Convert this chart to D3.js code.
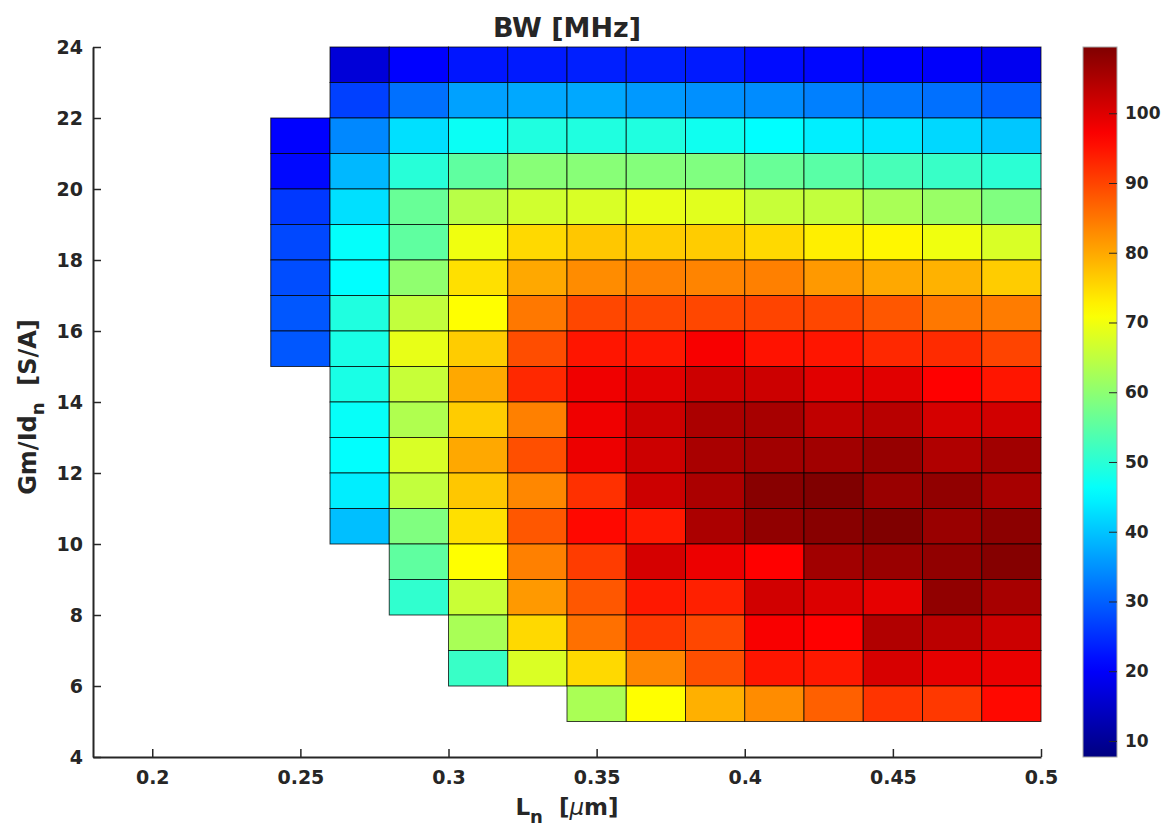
<!DOCTYPE html>
<html>
<head>
<meta charset="utf-8">
<script src="https://cdn.jsdelivr.net/npm/d3@7"></script>
<style>
body { margin: 0; background: #fff; }
text { font-family: "DejaVu Sans", sans-serif; font-weight: bold; fill: #262626; }
</style>
</head>
<body>
<svg width="1169" height="829"></svg>
<script>
// channel length (left edge of each cell column), um
var lengths = [0.24, 0.26, 0.28, 0.30, 0.32, 0.34, 0.36, 0.38, 0.40, 0.42, 0.44, 0.46, 0.48];
// gm/Id (bottom edge of each cell row), S/A, top row first
var gmId = [23, 22, 21, 20, 19, 18, 17, 16, 15, 14, 13, 12, 11, 10, 9, 8, 7, 6, 5];
// bandwidth, MHz (null = no design point)
var bw = [
    [null, 16.5, 20.5, 22.5, 23, 23.5, 23.5, 23, 21.5, 21, 20.5, 20, 19],
    [null, 26.8, 31.6, 36.5, 37.2, 37.2, 35.7, 34.8, 34.4, 33.2, 32.4, 31.6, 30],
    [20.5, 34, 42.8, 46.9, 49, 49, 49, 47.4, 45.9, 44.3, 43.6, 42, 40.3],
    [21.2, 38.8, 49.8, 55.4, 59.4, 59.4, 59, 58.6, 56.3, 54.8, 53, 51.5, 50.2],
    [26, 42.8, 56.3, 64.2, 66.6, 67.5, 69, 68.3, 65.7, 65.2, 62.7, 61.1, 58.6],
    [27.6, 46.3, 55.4, 69.8, 75.1, 76.9, 76.4, 76.4, 75.1, 72.9, 72.1, 69.8, 67.5],
    [28.1, 45.9, 60.2, 74.4, 80, 82.8, 84, 83.6, 84, 81.5, 80, 79, 76.4],
    [29.1, 49, 65.2, 71.3, 84.8, 89.7, 89.7, 89.7, 90, 89.7, 88.1, 84.8, 84.4],
    [29.1, 48.4, 69, 76.4, 89.1, 94.7, 94.5, 97.5, 95, 94.7, 92.8, 92.5, 90],
    [null, 48.4, 65.7, 80, 92.8, 98.3, 99.8, 101.9, 101.9, 99.8, 99.8, 96.8, 94.7],
    [null, 46.5, 63.4, 76.4, 84, 98.3, 101.9, 105.2, 105.6, 103.1, 103.9, 101, 101.4],
    [null, 46, 67.5, 80, 88.9, 98.6, 101.9, 105.4, 106.2, 106.2, 107.3, 104.7, 106.2],
    [null, 44.2, 65.2, 76.9, 83.3, 92, 101.9, 105.2, 108.7, 109.5, 107, 107.8, 105.6],
    [null, 39.5, 58.6, 74.4, 88.1, 96, 94.4, 105.2, 107.8, 108.7, 109.5, 107, 108.3],
    [null, null, 55.4, 71.3, 84, 90.8, 101, 98.6, 96.8, 106.2, 107, 107.8, 109],
    [null, null, 50.7, 65.9, 81.5, 88.1, 94.4, 93.6, 101.4, 100.3, 99.3, 107.8, 105.6],
    [null, null, null, 62.7, 75.1, 85.6, 91.2, 89.7, 97.4, 96.8, 104.6, 103.6, 101.9],
    [null, null, null, 51.5, 67.6, 75.1, 83.3, 88.9, 94.7, 94.4, 100.8, 99.3, 98.9],
    [null, null, null, null, null, 62.8, 71.3, 79.2, 82.8, 87.2, 91.6, 91.2, 96]
];
var xTicks = [0.2, 0.25, 0.3, 0.35, 0.4, 0.45, 0.5];
var yTicks = [4, 6, 8, 10, 12, 14, 16, 18, 20, 22, 24];
var cbTicks = [10, 20, 30, 40, 50, 60, 70, 80, 90, 100];
var cbRange = [7.7, 109.5];

var svg = d3.select("svg");
var plotL = 93, plotR = 1041, plotT = 47, plotB = 757;
var dx = 0.02, dy = 1;

var x = d3.scaleLinear().domain([0.18, 0.5]).range([plotL, plotR]);
var y = d3.scaleLinear().domain([4, 24]).range([plotB, plotT]);

// matlab jet
function jet(t) {
    function c(v) { return Math.max(0, Math.min(1, v)); }
    var r = c(1.5 - Math.abs(4 * t - 3)),
        g = c(1.5 - Math.abs(4 * t - 2)),
        b = c(1.5 - Math.abs(4 * t - 1));
    return d3.rgb(r * 255, g * 255, b * 255).toString();
}
var color = d3.scaleSequential(jet).domain(cbRange);

// cells
var cells = [];
bw.forEach(function (row, i) {
    row.forEach(function (v, j) {
        if (v !== null) cells.push({ l: lengths[j], g: gmId[i], v: v });
    });
});

svg.append("g")
    .selectAll("rect")
    .data(cells)
    .enter().append("rect")
    .attr("x", function (d) { return x(d.l); })
    .attr("y", function (d) { return y(d.g + dy); })
    .attr("width", function (d) { return x(d.l + dx) - x(d.l); })
    .attr("height", function (d) { return y(d.g) - y(d.g + dy); })
    .attr("fill", function (d) { return color(d.v); })
    .attr("stroke", "#000")
    .attr("stroke-opacity", 0.75)
    .attr("stroke-width", 1);

// axes
var xAxis = svg.append("g")
    .attr("transform", "translate(0," + plotB + ")")
    .call(d3.axisBottom(x).tickValues(xTicks).tickFormat(d3.format("~g"))
        .tickSizeInner(-8).tickSizeOuter(0).tickPadding(14));
var yAxis = svg.append("g")
    .attr("transform", "translate(" + plotL + ",0)")
    .call(d3.axisLeft(y).tickValues(yTicks)
        .tickSizeInner(-8).tickSizeOuter(0).tickPadding(10));

[xAxis, yAxis].forEach(function (a) {
    a.select(".domain").attr("stroke", "#262626").attr("stroke-width", 2);
    a.selectAll(".tick line").attr("stroke", "#262626").attr("stroke-width", 1.5);
    a.selectAll(".tick text").attr("font-size", 19).attr("fill", "#262626")
        .style("font-family", "DejaVu Sans").style("font-weight", "bold");
});

// title and labels
svg.append("text")
    .attr("x", (plotL + plotR) / 2).attr("y", 37)
    .attr("text-anchor", "middle").attr("font-size", 27)
    .attr("fill", "#000")
    .text("BW [MHz]");

var xl = svg.append("text")
    .attr("x", (plotL + plotR) / 2).attr("y", 815)
    .attr("text-anchor", "middle").attr("font-size", 23)
    .attr("xml:space", "preserve");
xl.append("tspan").text("L");
xl.append("tspan").attr("font-size", 18).attr("dy", 8).text("n");
xl.append("tspan").attr("dy", -8).text("  [");
xl.append("tspan").attr("font-style", "italic").attr("font-weight", "normal").text("\u03bc");
xl.append("tspan").text("m]");

var yl = svg.append("text")
    .attr("transform", "translate(36," + ((plotT + plotB) / 2 + 5) + ") rotate(-90)")
    .attr("text-anchor", "middle").attr("font-size", 24)
    .attr("xml:space", "preserve");
yl.append("tspan").text("Gm/Id");
yl.append("tspan").attr("font-size", 18).attr("dy", 8).text("n");
yl.append("tspan").attr("dy", -8).text("  [S/A]");

// colorbar
var cbX = 1083, cbW = 34;
var cb = d3.scaleLinear().domain(cbRange).range([plotB, plotT]);
var grad = svg.append("defs").append("linearGradient")
    .attr("id", "jetgrad").attr("x1", 0).attr("y1", 1).attr("x2", 0).attr("y2", 0);
d3.range(0, 1.0001, 0.02).forEach(function (t) {
    grad.append("stop").attr("offset", t).attr("stop-color", jet(t));
});
svg.append("rect")
    .attr("x", cbX).attr("y", plotT).attr("width", cbW).attr("height", plotB - plotT)
    .attr("fill", "url(#jetgrad)")
    .attr("stroke", "#a8a8a8").attr("stroke-width", 1);

var cbAxis = svg.append("g")
    .attr("transform", "translate(" + (cbX + cbW) + ",0)")
    .call(d3.axisRight(cb).tickValues(cbTicks)
        .tickSizeInner(-8).tickSizeOuter(0).tickPadding(8));
cbAxis.select(".domain").remove();
cbAxis.selectAll(".tick line").attr("stroke", "#262626").attr("stroke-width", 1);
cbAxis.selectAll(".tick text").attr("font-size", 17).attr("fill", "#262626")
    .style("font-family", "DejaVu Sans").style("font-weight", "bold");
</script>
</body>
</html>
